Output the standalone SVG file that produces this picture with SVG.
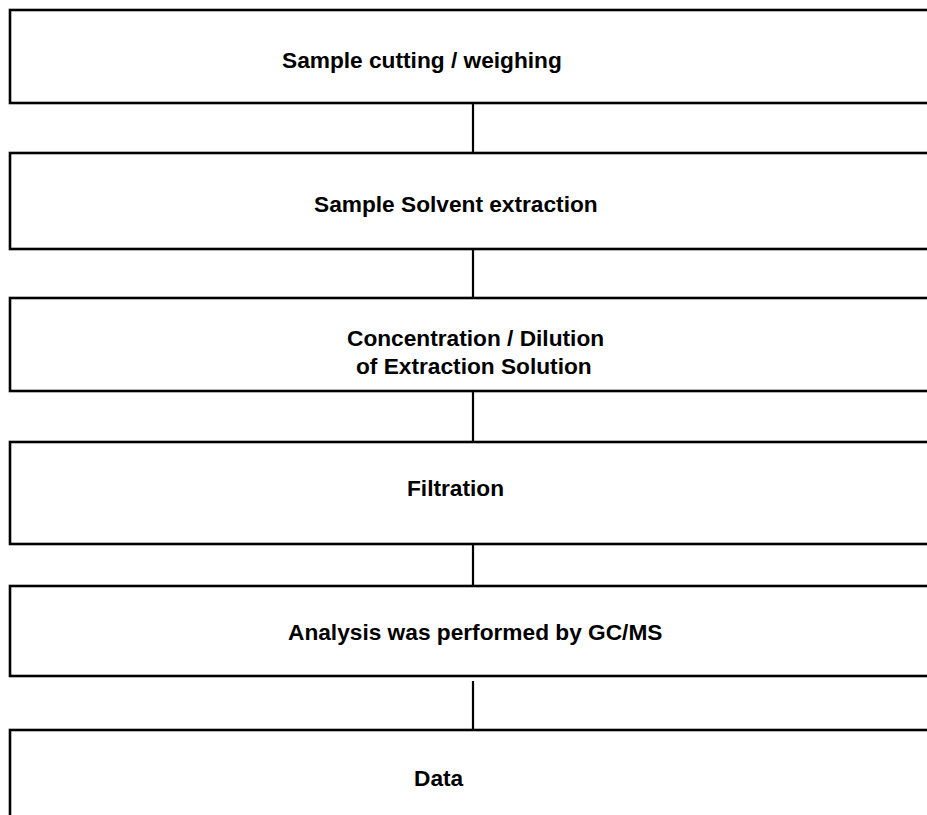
<svg xmlns="http://www.w3.org/2000/svg" width="927" height="815" viewBox="0 0 927 815">
<style>
.box{fill:#fff;stroke:#000;stroke-width:2.6}
.lbl{font-family:"Liberation Sans",Arial,sans-serif;font-weight:bold;font-size:22.7px;fill:#000}
.con{stroke:#000;stroke-width:2.2;fill:none}
</style>
<rect width="927" height="815" fill="#fff"/>
<g id="connectors">
<line class="con" x1="473" y1="103" x2="473" y2="153"/>
<line class="con" x1="473" y1="249" x2="473" y2="298"/>
<line class="con" x1="473" y1="391" x2="473" y2="442"/>
<line class="con" x1="473" y1="537" x2="473" y2="586"/>
<line class="con" x1="473" y1="681" x2="473" y2="730"/>
</g>
<g id="n1"><rect class="box" x="10" y="10" width="940" height="93"/><text class="lbl" x="282" y="68">Sample cutting / weighing</text></g>
<g id="n2"><rect class="box" x="10" y="153" width="940" height="96"/><text class="lbl" x="314" y="212">Sample Solvent extraction</text></g>
<g id="n3"><rect class="box" x="10" y="298" width="940" height="93"/><text class="lbl" x="347" y="346">Concentration / Dilution</text><text class="lbl" x="356" y="374">of Extraction Solution</text></g>
<g id="n4"><rect class="box" x="10" y="442" width="940" height="102"/><text class="lbl" x="407" y="496">Filtration</text></g>
<g id="n5"><rect class="box" x="10" y="586" width="940" height="90"/><text class="lbl" x="288" y="640">Analysis was performed by GC/MS</text></g>
<g id="n6"><rect class="box" x="10" y="730" width="940" height="120"/><text class="lbl" x="414" y="786">Data</text></g>
</svg>
